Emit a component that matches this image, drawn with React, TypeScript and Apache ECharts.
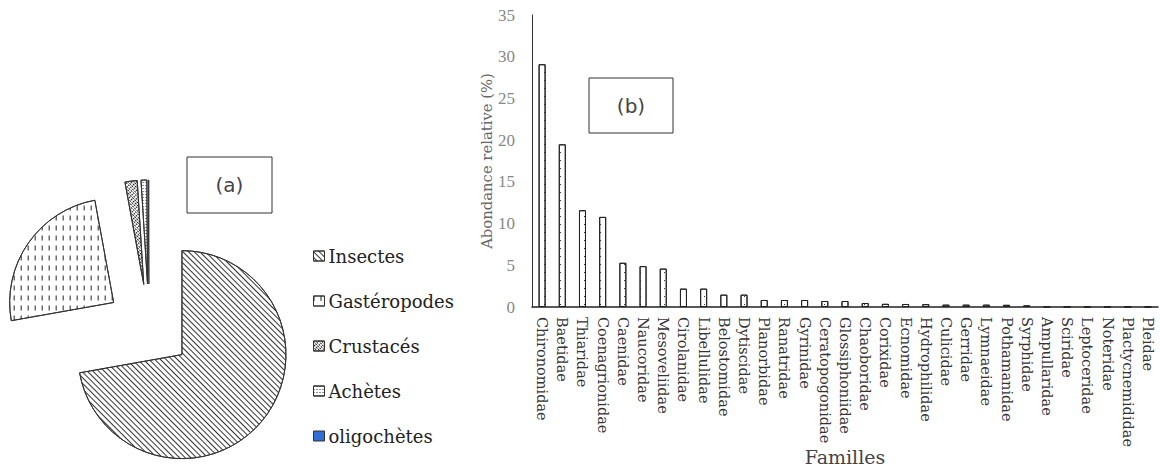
import React, { useEffect, useRef } from "react";
import * as echarts from "echarts";

const pieNames = ["Insectes", "Gastéropodes", "Crustacés", "Achètes", "oligochètes"];
const pieValues = [72.2, 24.9, 1.9, 0.9, 0.1];

const families = [
  "Chironomidae", "Baetidae", "Thiaridae", "Coenagrionidae", "Caenidae", "Naucoridae",
  "Mesoveliidae", "Cirolanidae", "Libellulidae", "Belostomidae", "Dytiscidae", "Planorbidae",
  "Ranatridae", "Gyrinidae", "Ceratopogonidae", "Glossiphoniidae", "Chaoboridae", "Corixidae",
  "Ecnomidae", "Hydrophilidae", "Culicidae", "Gerridae", "Lymnaeidae", "Pothamanidae",
  "Syrphidae", "Ampullaridae", "Sciridae", "Leptoceridae", "Noteridae", "Plactycnemididae", "Pleidae",
];
const abundance = [
  29.1, 19.5, 11.6, 10.8, 5.3, 4.9, 4.6, 2.2, 2.2, 1.48, 1.48, 0.84, 0.84, 0.84, 0.72, 0.72,
  0.48, 0.38, 0.36, 0.34, 0.28, 0.28, 0.28, 0.26, 0.2, 0.05, 0.04, 0.04, 0.03, 0.03, 0.03,
];
const yTicks = { min: 0, max: 35, interval: 5 };

const SERIF = "DejaVu Serif";

const pieDecals: any[] = [
  { symbol: "rect", symbolSize: 1, dashArrayX: [1, 0], dashArrayY: [1, 3], rotation: Math.PI / 4, color: "#333" },
  { symbol: "rect", symbolSize: 1, dashArrayX: [1, 6], dashArrayY: [5, 5], color: "#222" },
  { symbol: "rect", symbolSize: 1, dashArrayX: [2, 1], dashArrayY: [1, 1], rotation: Math.PI / 4, color: "#222" },
  { symbol: "rect", symbolSize: 1, dashArrayX: [1, 2], dashArrayY: [1, 2], color: "#222" },
  null,
];
const pieColors = ["#ffffff", "#ffffff", "#ffffff", "#ffffff", "#2f6fd6"];

export default function App() {
  const ref = useRef<HTMLDivElement>(null);
  useEffect(() => {
    if (!ref.current) return;
    const chart = echarts.init(ref.current, null, { renderer: "svg" });
    const option: any = {
      animation: false,
      backgroundColor: "#ffffff",
      legend: {
        data: pieNames,
        orient: "vertical",
        left: 308,
        top: 242,
        icon: "rect",
        itemWidth: 11,
        itemHeight: 10,
        itemGap: 27,
        itemStyle: { borderColor: "#333", borderWidth: 1 },
        selectedMode: false,
        textStyle: { fontFamily: SERIF, fontSize: 18, lineHeight: 18, color: "#222", padding: [0, 0, 0, -1] },
      },
      grid: { left: 532, right: 2, top: 15, bottom: 163, containLabel: false, outerBoundsMode: "none" },
      xAxis: {
        type: "category",
        data: families,
        name: "Familles",
        nameLocation: "middle",
        nameGap: 140,
        nameMoveOverlap: false,
        nameTextStyle: { fontFamily: SERIF, fontSize: 19, color: "#444" },
        axisLine: { show: true, lineStyle: { color: "#222", width: 1.5 } },
        axisTick: { show: false },
        axisLabel: {
          interval: 0,
          rotate: -90,
          margin: 10,
          fontFamily: SERIF,
          fontSize: 14.5,
          color: "#333",
        },
      },
      yAxis: {
        type: "value",
        min: yTicks.min,
        max: yTicks.max,
        interval: yTicks.interval,
        name: "Abondance relative (%)",
        nameLocation: "middle",
        nameGap: 38,
        nameMoveOverlap: false,
        nameTextStyle: { fontFamily: SERIF, fontSize: 14.8, color: "#666" },
        axisLine: { show: true, lineStyle: { color: "#333", width: 1 } },
        axisTick: { show: false },
        splitLine: { show: false },
        axisLabel: { fontFamily: "Liberation Serif", fontSize: 17, color: "#888", margin: 17 },
      },
      series: [
        {
          type: "bar",
          data: abundance,
          barWidth: 7,
          itemStyle: {
            color: "#ffffff",
            borderColor: "#222",
            borderWidth: 1,
            decal: { symbol: "rect", symbolSize: 1, dashArrayX: [1, 7], dashArrayY: [1, 7], color: "#333" },
          },
          emphasis: { disabled: true },
        },
        {
          type: "pie",
          center: [149, 327],
          radius: 104,
          startAngle: 90,
          clockwise: true,
          selectedMode: "multiple",
          selectedOffset: 43,
          label: { show: false },
          labelLine: { show: false },
          emphasis: { disabled: true },
          data: pieNames.map((n, i) => ({
            name: n,
            value: pieValues[i],
            selected: true,
            itemStyle: {
              color: pieColors[i],
              borderColor: "#333",
              borderWidth: 1,
              ...(pieDecals[i] ? { decal: pieDecals[i] } : {}),
            },
          })),
        },
      ],
      graphic: [
        {
          type: "rect",
          shape: { x: 187, y: 157, width: 85, height: 56 },
          style: { fill: "#fff", stroke: "#333", lineWidth: 1 },
        },
        {
          type: "text",
          x: 229.5,
          y: 185,
          style: { text: "(a)", fontFamily: "DejaVu Sans", fontSize: 20, fill: "#444", align: "center", verticalAlign: "middle" },
        },
        {
          type: "rect",
          shape: { x: 589, y: 78, width: 84, height: 55 },
          style: { fill: "#fff", stroke: "#333", lineWidth: 1 },
        },
        {
          type: "text",
          x: 631,
          y: 105.5,
          style: { text: "(b)", fontFamily: "DejaVu Sans", fontSize: 20, fill: "#444", align: "center", verticalAlign: "middle" },
        },
      ],
    };
    chart.setOption(option);
    return () => chart.dispose();
  }, []);
  return (
    <div
      ref={ref}
      style={{ position: "absolute", left: 0, top: 0, width: 1160, height: 470, background: "#fff" }}
    />
  );
}
